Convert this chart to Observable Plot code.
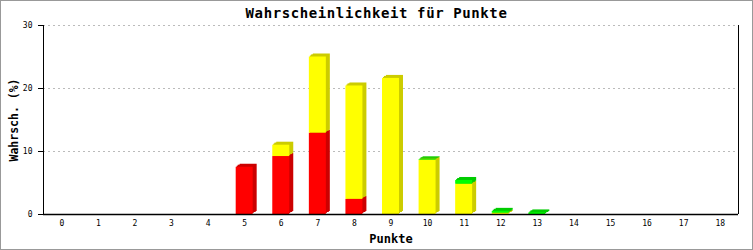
<!DOCTYPE html>
<html>
<head>
<meta charset="utf-8">
<script src="https://cdn.jsdelivr.net/npm/d3@7"></script>
<script src="https://cdn.jsdelivr.net/npm/@observablehq/plot@0.6"></script>
<style>
  body { margin: 0; background: #fff; }
  #chart { position: relative; width: 753px; height: 250px; box-sizing: border-box; border: 1px solid #999; background: #fff; overflow: hidden; }
  #title { height: 18px; line-height: 24px; text-align: center; font-family: "DejaVu Sans Mono", monospace; font-weight: bold; font-size: 14px; letter-spacing: 0.6px; color: #000; white-space: nowrap; }
  svg { display: block; }
</style>
</head>
<body>
<div id="chart"><div id="title">Wahrscheinlichkeit für Punkte</div></div>
<script>
const points = [0, 1, 2, 3, 4, 5, 6, 7, 8, 9, 10, 11, 12, 13, 14, 15, 16, 17, 18];
const redValues    = [0, 0, 0, 0, 0, 7.5, 9.2, 12.9, 2.4, 0, 0, 0, 0, 0, 0, 0, 0, 0, 0];
const yellowValues = [0, 0, 0, 0, 0, 0, 1.8, 12.1, 18.0, 21.6, 8.6, 4.8, 0.2, 0, 0, 0, 0, 0, 0];
const greenValues  = [0, 0, 0, 0, 0, 0, 0, 0, 0, 0, 0.1, 0.6, 0.3, 0.25, 0, 0, 0, 0, 0];
const yTicks = [0, 10, 20, 30];

const seriesList = [
  {name: "rot", values: redValues},
  {name: "gelb", values: yellowValues},
  {name: "grün", values: greenValues}
];
const frontColor = {"rot": "#ff0000", "gelb": "#ffff00", "grün": "#00ff00"};
const sideColor = {"rot": "#cc0000", "gelb": "#cccc00", "grün": "#00cc00"};

// stacked segments table
const segs = [];
points.forEach((p, i) => {
  let base = 0;
  for (const s of seriesList) {
    const v = s.values[i];
    if (v > 0) {
      segs.push({x: p, y1: base, y2: base + v, series: s.name});
      base += v;
    }
  }
});

const inset = 9.8;
const offsets = [[4, -3], [3, -2], [2, -2], [1, -1]];
const shadowMarks = offsets.map(([dx, dy]) =>
  Plot.rectY(segs, {
    x1: d => d.x - 0.5, x2: d => d.x + 0.5, y1: "y1", y2: "y2",
    fill: d => sideColor[d.series], insetLeft: inset, insetRight: inset,
    dx, dy
  })
);

const plot = Plot.plot({
  width: 751,
  height: 230,
  marginTop: 6,
  marginBottom: 35,
  marginLeft: 42,
  marginRight: 14,
  style: {fontFamily: "DejaVu Sans Mono, monospace", background: "transparent", overflow: "visible"},
  color: {type: "identity"},
  x: {domain: [-0.5, 18.5], axis: null},
  y: {domain: [0, 30], axis: null},
  marks: [
    Plot.ruleY(yTicks.filter(t => t > 0), {stroke: "#bbb", strokeDasharray: "2,3", strokeWidth: 1}),
    ...shadowMarks,
    Plot.rectY(segs, {
      x1: d => d.x - 0.5, x2: d => d.x + 0.5, y1: "y1", y2: "y2",
      fill: d => frontColor[d.series], insetLeft: inset, insetRight: inset
    }),
    Plot.ruleX([-0.5, 18.5], {stroke: "#000"}),
    Plot.ruleY([0], {stroke: "#000", strokeWidth: 1.5}),
    Plot.axisY({ticks: yTicks, tickSize: 5, tickPadding: 6, fontSize: 8, label: null, tickFormat: d => String(d)}),
    Plot.axisX({ticks: points, tickSize: 0, tickPadding: 6, fontSize: 8, label: null, tickFormat: d => String(d)}),
    Plot.text(["Punkte"], {frameAnchor: "bottom", dy: 28, fontSize: 12, fontWeight: "bold", textAnchor: "middle"}),
    Plot.text(["Wahrsch. (%)"], {frameAnchor: "left", dx: -29, rotate: -90, fontSize: 11.5, fontWeight: "bold", textAnchor: "middle"})
  ]
});
document.getElementById("chart").appendChild(plot);
</script>
</body>
</html>
